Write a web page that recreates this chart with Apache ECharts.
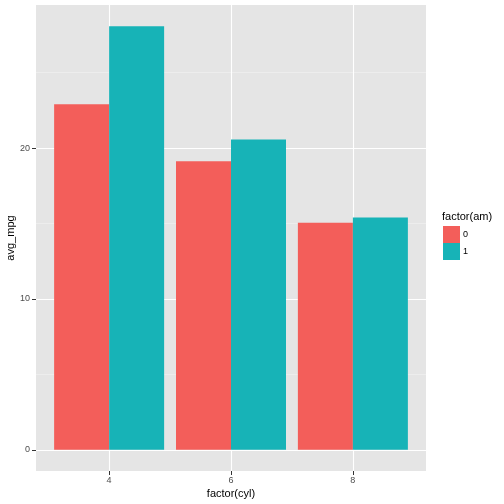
<!DOCTYPE html>
<html>
<head>
<meta charset="utf-8">
<script src="https://cdn.jsdelivr.net/npm/echarts@6/dist/echarts.min.js"></script>
<style>
  html, body { margin: 0; padding: 0; background: #fff; }
  #chart { width: 504px; height: 504px; }
</style>
</head>
<body>
<div id="chart"></div>
<script>
// mean mpg by cylinder count and transmission
const cylLabels = ['4', '6', '8'];
const amLevels = ['0', '1'];
const mpgAm0 = [22.9, 19.125, 15.05];
const mpgAm1 = [28.075, 20.567, 15.4];
const yMajor = [0, 10, 20];
const yMinor = [5, 15, 25];

const FONT = 'Liberation Sans';
const pos = cylLabels.map((c, i) => i + 1);

const chart = echarts.init(document.getElementById('chart'));

const option = {
  animation: false,
  color: ['#F35E5A', '#17B3B7'],
  textStyle: { fontFamily: FONT },
  grid: {
    left: 36, right: 78, top: 5, bottom: 33,
    outerBoundsMode: 'none', containLabel: false,
    show: true, backgroundColor: '#E5E5E5', borderWidth: 0
  },
  legend: {
    orient: 'vertical',
    left: 443, top: 226, padding: 0,
    data: amLevels,
    itemWidth: 17, itemHeight: 17, itemGap: 0,
    icon: 'rect',
    textStyle: { fontSize: 9, color: '#000', fontFamily: FONT, padding: [0, 0, 0, -2] },
    selectedMode: false
  },
  graphic: [{
    type: 'text', left: 442, top: 211,
    style: { text: 'factor(am)', fontSize: 11, fill: '#000', fontFamily: FONT }
  }],
  xAxis: {
    type: 'value', min: 0.4, max: 3.6,
    name: 'factor(cyl)', nameLocation: 'middle', nameGap: 17, nameMoveOverlap: false,
    nameTextStyle: { fontSize: 11, color: '#000' },
    axisLine: { show: false, onZero: false },
    axisTick: { show: true, length: 4, lineStyle: { color: '#333' }, customValues: pos },
    axisLabel: {
      customValues: pos, fontSize: 9, color: '#4D4D4D', margin: 5,
      formatter: v => cylLabels[Math.round(v) - 1]
    },
    splitLine: { show: true, lineStyle: { color: '#fff', width: 1.1 } }
  },
  yAxis: [{
    type: 'value', min: -1.404, max: 29.479,
    name: 'avg_mpg', nameLocation: 'middle', nameGap: 20, nameMoveOverlap: false,
    nameTextStyle: { fontSize: 11, color: '#000' },
    axisLine: { show: false, onZero: false },
    axisTick: { show: true, length: 4, lineStyle: { color: '#333' }, customValues: yMajor },
    axisLabel: { customValues: yMajor, fontSize: 9, color: '#4D4D4D', margin: 6 },
    splitLine: { show: true, lineStyle: { color: '#fff', width: 1.1 } }
  }, {
    type: 'value', min: -1.404, max: 29.479,
    axisLine: { show: false, onZero: false },
    axisTick: { show: false, customValues: yMinor },
    axisLabel: { show: false, customValues: yMinor },
    splitLine: { show: true, lineStyle: { color: '#F2F2F2', width: 0.6 } }
  }],
  series: [{
    name: amLevels[0], type: 'bar', yAxisIndex: 0,
    barWidth: 55, barGap: '0%',
    data: pos.map((p, i) => [p, mpgAm0[i]])
  }, {
    name: amLevels[1], type: 'bar', yAxisIndex: 0,
    barWidth: 55, barGap: '0%',
    data: pos.map((p, i) => [p, mpgAm1[i]])
  }]
};

chart.setOption(option);
</script>
</body>
</html>
